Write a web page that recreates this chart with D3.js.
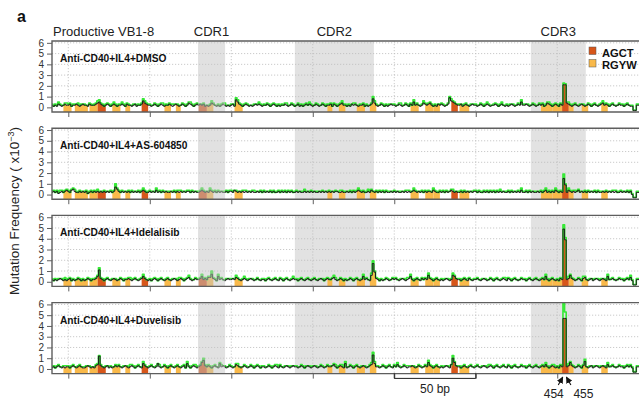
<!DOCTYPE html>
<html>
<head>
<meta charset="utf-8">
<script src="https://cdn.jsdelivr.net/npm/d3@7"></script>
<style>
  body { margin: 0; background: #fff; }
  svg { display: block; font-family: "Liberation Sans", Arial, sans-serif; }
</style>
</head>
<body>
<svg id="chart" width="639" height="403"></svg>
<script>
// Sequence positions (bp) covered by the plot
const startPos = 140;
const endPos = 502;
const xTicks = [150, 200, 250, 300, 350, 400, 450];
const yTicks = [0, 1, 2, 3, 4, 5, 6];

// Complementarity-determining regions (bp)
const cdrNames = ["CDR1", "CDR2", "CDR3"];
const cdrStart = [229.6, 289.0, 433.8];
const cdrEnd = [246.2, 337.5, 467.5];

// Hotspot motifs (bp spans)
const agctSpans = [[168, 173], [195, 199], [230, 235], [385, 389], [453, 457]];
const rgywSpans = [[147, 152], [154, 162], [163, 168], [177, 182], [185, 188], [209, 213], [216, 219],
  [235, 239], [252, 257], [309, 312], [316, 320], [327, 332], [335, 339], [360, 365], [369, 374],
  [374, 378], [390, 396], [440, 447], [447, 453], [457, 460], [465, 469], [477, 481]];

// Treatments
const treatments = ["Anti-CD40+IL4+DMSO", "Anti-CD40+IL4+AS-604850", "Anti-CD40+IL4+Idelalisib", "Anti-CD40+IL4+Duvelisib"];

// Mutation frequency per bp, in tenths (x10^-3), one character per position from 140 to 502
const freqDMSO = "2121321232 2312232123 2213222345 3212321232 1223213221 2312236432 2123212321 2232123212 3212432123 2323121243 2121232121 2317532123 2121232321 2232123212 1223212321 2312123232 1232123212 2313212342 2121323212 2312123842 1232121232 2123212321 3252321243 2342121323 2123965432 2312321232 2123212321 2232123212 1232123252 2321232123 2312432123 2132004321 2321232123 2123212342 3212321232 2123211002 232";
const freqAS = "2323123234 3245322323 2312323232 3232323237 5323232323 2323234322 3232423232 3223232323 2323323232 2343232432 3232322323 3243232323 2323223232 3232323223 2323232322 3232232323 2322323232 3232332232 2323232343 2322324323 2323232232 3232232323 2343232323 2332432232 3232343232 2323232323 3232232323 2323232322 3232323242 2323232232 3234232324 3232002432 3234232323 2323232232 3232323223 2323230022 232";
const freqIdela = "2121232121 2312123212 1232122354 3212321232 1232122321 2321235321 2123212321 2321232123 2123421232 2352324473 2152321232 2324321232 1232123212 2123212321 3212321232 2123212321 2321232123 2234212321 2123212321 2523216003 2121232123 2321232123 5212321323 2632123212 1232126532 2123213212 2321232123 2123212321 3212321232 2123212321 2325212321 2132002363 2123213421 2312321232 1522321232 2123241002 232";
const freqDuve = "1212321212 2123212321 1232121342 3212312123 2321232123 2123215321 2321252123 2123212321 2315212321 2368323212 3215232123 2124321232 1232123212 2123212321 3212321232 2123212321 2321232123 2234212321 5123212321 2321234052 2123212321 3242123212 2321232123 2632123212 1232140632 2123212321 2321232123 2123212321 3212321232 2123212321 2324212321 2132002363 2123213721 2312321232 1422321232 2123231002 232";

// Upper bound above the frequency, in tenths, same layout
const upperDMSO = "1011211012 1101102110 1011101122 1101110121 0112101101 1011012211 1101101121 1011210110 1101121011 1011101121 0110112101 1012211011 1101101211 1011011101 1101210110 0111011021 1011101101 1101101121 1011021011 1101101221 1011011101 1101210110 1021101121 1111011011 1101121101 1011101101 1101101211 0111012011 1101101121 1011011101 1101121011 1011001211 1101101101 1011011121 1101101011 1011011001 101";
const upperAS = "1101121011 1011210110 1101101121 0111011013 1101101101 1011012101 1101211011 0110110121 1011101101 1121101211 1011011101 1101101121 1011210110 1101101011 0111011101 1101121011 1011011101 1101101211 1011011121 1101211011 0111011101 1101101121 1021101101 1101211011 1011012101 1101101011 1011011101 1101121011 1011011121 1101101101 1012110112 1011001211 1201101101 1011011101 1101121011 1011011001 101";
const upperIdela = "1011101121 1101101101 1011011111 1101101101 1011011121 1101112101 1011101101 1101101121 1011211011 1121101131 1021101101 1012101121 1101101011 1011011101 1101101121 1011011101 1101101011 1012210110 1101101101 1211012011 1011011101 1101101121 2101101101 1211011011 1101112101 1011021011 1101101101 1011011121 1101101011 1011011101 1102101101 1011001211 1101102101 1011011101 1201101011 1011021001 101";
const upperDuve = "1101101121 1011011101 1101101111 1011011101 1101101121 1011012101 1101102101 1011011101 1102101121 1112101101 1011201101 1101201011 1011011101 1101101121 1011011101 1101101011 1011011101 1101201121 2101101101 1011012021 1101101101 1021101121 1011011101 1211011011 1101101101 1011011101 1101101121 1011011101 1101101011 1011011101 1102101121 1011001211 1101101201 1011011101 1201101011 1011011001 101";

// Large values: [position, frequency, upper bound] (x10^-3)
const peaksDMSO = [[454, 2.1, 2.25], [455, 2.1, 2.2], [497, -0.3, -0.25], [498, -0.3, -0.25]];
const peaksAS = [[454, 1.5, 1.9], [455, 0.9, 1.0], [497, -0.3, -0.25], [498, -0.3, -0.25]];
const peaksIdela = [[169, 1.1, 1.3], [337, 1.7, 1.95], [338, 0.9, 1.0], [454, 4.9, 5.3], [455, 3.9, 4.1], [497, -0.3, -0.25], [498, -0.3, -0.25]];
const peaksDuve = [[169, 1.2, 1.25], [337, 1.3, 1.55], [386, 1.0, 1.25], [454, 4.7, 6.1], [455, 4.7, 5.3], [497, -0.3, -0.25], [498, -0.3, -0.25]];

const freqStrings = [freqDMSO, freqAS, freqIdela, freqDuve];
const upperStrings = [upperDMSO, upperAS, upperIdela, upperDuve];
const peakLists = [peaksDMSO, peaksAS, peaksIdela, peaksDuve];

// Marked positions under the last panel
const markedPos = [454, 455];

const COL_AGCT = "#d7561a";
const COL_RGYW = "#f9b94a";
const COL_GREEN = "#35ea35";
const COL_BAND = "#e2e2e2";
const COL_FRAME = "#5e5e5e";

const svg = d3.select("#chart");
const positions = d3.range(startPos, endPos + 1);

function decode(str) {
  return str.replace(/\s+/g, "").split("").map(c => +c / 10);
}
function buildSeries(fStr, uStr, peaks) {
  const f = decode(fStr), u = decode(uStr);
  const rows = positions.map((p, i) => {
    const v = f[i] !== undefined ? f[i] : 0;
    const lift = u[i] !== undefined ? u[i] : 0;
    return { pos: p, v: v, up: v + lift };
  });
  peaks.forEach(([p, v, up]) => {
    const r = rows[p - startPos];
    r.v = v; r.up = up;
  });
  return rows;
}

const plotLeft = 52, plotRight = 642;
const x = d3.scaleLinear().domain([startPos, endPos]).range([plotLeft, plotRight]);
const panelH = 71, panelStep = 87.2, firstTop = 41;

// Region labels above the first panel
svg.append("text").attr("x", 53).attr("y", 35.5).attr("font-size", 13).attr("fill", "#222")
  .text("Productive VB1-8");
cdrNames.forEach((n, i) => {
  svg.append("text").attr("x", x((cdrStart[i] + cdrEnd[i]) / 2)).attr("y", 35.5)
    .attr("text-anchor", "middle").attr("font-size", 13).attr("fill", "#222").text(n);
});

svg.append("text").attr("x", 17).attr("y", 21.5).attr("font-size", 16).attr("font-weight", "bold")
  .attr("fill", "#111").text("a");

// Y axis title
const yt = svg.append("text").attr("transform", "translate(19,211) rotate(-90)")
  .attr("text-anchor", "middle").attr("font-size", 13.5).attr("fill", "#222");
yt.append("tspan").text("Mutation Frequency ( x10");
yt.append("tspan").attr("font-size", 9).attr("dy", -5).text("−3");
yt.append("tspan").attr("dy", 5).text(")");

svg.append("defs").append("clipPath").attr("id", "plotClip")
  .append("rect").attr("x", plotLeft).attr("y", 0).attr("width", plotRight - plotLeft).attr("height", panelH);

treatments.forEach((name, k) => {
  const top = firstTop + k * panelStep;
  const y = d3.scaleLinear().domain([-0.43, 6.17]).range([panelH, 0]);
  const data = buildSeries(freqStrings[k], upperStrings[k], peakLists[k]);

  const g = svg.append("g").attr("transform", `translate(0,${top})`);
  const inner = g.append("g").attr("clip-path", "url(#plotClip)");

  // CDR2 and CDR3 shading behind the data
  [1, 2].forEach(i => {
    inner.append("rect").attr("x", x(cdrStart[i])).attr("y", 0)
      .attr("width", x(cdrEnd[i]) - x(cdrStart[i])).attr("height", panelH).attr("fill", COL_BAND);
  });

  // dotted grid
  inner.selectAll(".hg").data(yTicks.filter(t => t > 0)).join("line")
    .attr("x1", plotLeft).attr("x2", plotRight).attr("y1", d => y(d)).attr("y2", d => y(d))
    .attr("stroke", "#bdbdbd").attr("stroke-width", 0.8).attr("stroke-dasharray", "1.2,1.8");
  inner.selectAll(".vg").data(xTicks).join("line")
    .attr("x1", d => x(d)).attr("x2", d => x(d)).attr("y1", 0).attr("y2", panelH)
    .attr("stroke", "#bdbdbd").attr("stroke-width", 0.8).attr("stroke-dasharray", "1.2,1.8");

  // hotspot fills under the frequency trace
  const area = d3.area().x(d => x(d.pos)).y0(panelH).y1(d => y(d.v)).curve(d3.curveStep);
  const spanRows = ([a, b]) => data.filter(d => d.pos >= a && d.pos <= b);
  rgywSpans.forEach(s => inner.append("path").attr("d", area(spanRows(s))).attr("fill", COL_RGYW));
  agctSpans.forEach(s => inner.append("path").attr("d", area(spanRows(s))).attr("fill", COL_AGCT));

  // upper bound (green) and frequency (black) traces
  const upLine = d3.line().x(d => x(d.pos)).y(d => y(d.up)).curve(d3.curveStep);
  const fLine = d3.line().x(d => x(d.pos)).y(d => y(d.v)).curve(d3.curveStep);
  inner.append("path").attr("d", upLine(data)).attr("fill", "none")
    .attr("stroke", COL_GREEN).attr("stroke-width", 1.6).attr("stroke-linejoin", "round");
  inner.append("path").attr("d", fLine(data)).attr("fill", "none")
    .attr("stroke", "#1c1c1c").attr("stroke-width", 1);

  // CDR1 shading laid over the data
  inner.append("rect").attr("x", x(cdrStart[0])).attr("y", 0)
    .attr("width", x(cdrEnd[0]) - x(cdrStart[0])).attr("height", panelH)
    .attr("fill", "#c4c4c4").attr("opacity", 0.5);

  // frame (left, top, bottom)
  g.append("path").attr("d", `M${plotRight},0H${plotLeft}V${panelH}H${plotRight}`)
    .attr("fill", "none").attr("stroke", COL_FRAME).attr("stroke-width", 1.4);

  // axes
  const ya = g.append("g").attr("transform", `translate(${plotLeft},0)`)
    .call(d3.axisLeft(y).tickValues(yTicks).tickSize(5).tickPadding(3).tickFormat(d3.format("d")));
  ya.select(".domain").remove();
  ya.selectAll("line").attr("stroke", COL_FRAME);
  ya.selectAll("text").attr("font-size", 10).attr("fill", "#333")
    .attr("font-family", "'Liberation Sans', Arial, sans-serif");

  const xa = g.append("g").attr("transform", `translate(0,${panelH})`)
    .call(d3.axisBottom(x).tickValues(xTicks).tickSize(5).tickFormat(() => ""));
  xa.select(".domain").remove();
  xa.selectAll("line").attr("stroke", COL_FRAME);

  // treatment name
  g.append("text").attr("x", 60).attr("y", 21).attr("font-size", 10.2).attr("font-weight", "bold")
    .attr("fill", "#111").text(name);

  // legend in the first panel
  if (k === 0) {
    const lg = g.append("g");
    [[COL_AGCT, "AGCT"], [COL_RGYW, "RGYW"]].forEach(([c, t], i) => {
      lg.append("rect").attr("x", 589).attr("y", 6 + i * 12.5).attr("width", 7).attr("height", 7.5)
        .attr("fill", c).attr("stroke", "#555").attr("stroke-width", 0.5);
      lg.append("text").attr("x", 602).attr("y", 15.5 + i * 12.5).attr("font-size", 11.2)
        .attr("font-weight", "bold").attr("fill", "#111").text(t);
    });
  }
});

// Scale bar and marked positions below the last panel
const lastBottom = firstTop + 3 * panelStep + panelH;
const barY = lastBottom + 4.8;
svg.append("path")
  .attr("d", `M${x(350)},${barY - 5}V${barY}H${x(400)}V${barY - 5}`)
  .attr("fill", "none").attr("stroke", "#222").attr("stroke-width", 1);
svg.append("text").attr("x", x(375)).attr("y", barY + 14.5).attr("text-anchor", "middle")
  .attr("font-size", 12).attr("fill", "#222").text("50 bp");

svg.select("defs").append("marker").attr("id", "head").attr("viewBox", "0 0 10 10")
  .attr("refX", 9).attr("refY", 5).attr("markerWidth", 6).attr("markerHeight", 6)
  .attr("orient", "auto")
  .append("path").attr("d", "M0,0L10,5L0,10z").attr("fill", "#111");

markedPos.forEach((p, i) => {
  const tipX = x(p) + (i === 0 ? -1 : 1);
  const tailX = x(p) + (i === 0 ? -5.5 : 5.5);
  svg.append("line").attr("x1", tailX).attr("y1", lastBottom + 11.5)
    .attr("x2", tipX).attr("y2", lastBottom + 3.5)
    .attr("stroke", "#111").attr("stroke-width", 1.1).attr("marker-end", "url(#head)");
  svg.append("text").attr("x", i === 0 ? x(p) - 10 : x(p) + 18).attr("y", lastBottom + 24)
    .attr("text-anchor", "middle").attr("font-size", 12).attr("fill", "#222").text(String(p));
});
</script>
</body>
</html>
